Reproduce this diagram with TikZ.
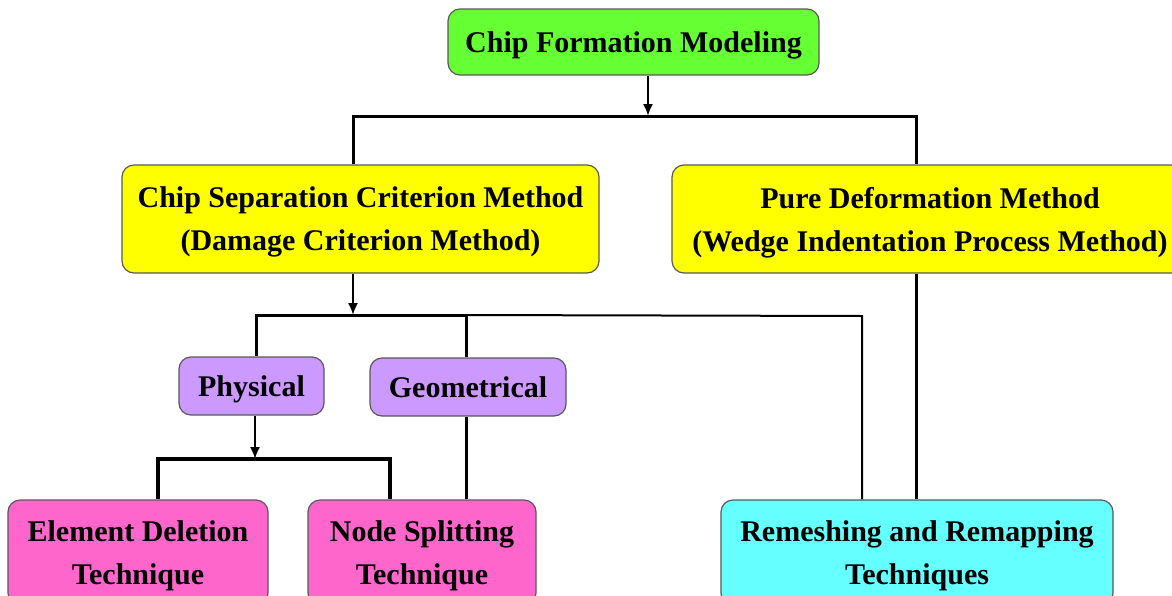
\documentclass[tikz,border=0pt]{standalone}
\usepackage{fontspec}
\setmainfont{Liberation Serif}
\usepackage{tikz}
\usetikzlibrary{positioning,arrows,arrows.meta,calc}

\definecolor{boxgreen}{HTML}{66FF33}
\definecolor{boxyellow}{HTML}{FFFF00}
\definecolor{boxpurple}{HTML}{CC99FF}
\definecolor{boxpink}{HTML}{FF66CC}
\definecolor{boxcyan}{HTML}{66FFFF}

\tikzset{
  blockbox/.style={draw=black!65, line width=0.6pt, rounded corners=6pt, align=center,
    font=\fontsize{15}{21.5}\selectfont\bfseries, inner sep=0pt, text depth=0pt},
  bus/.style={line width=1.5pt},
  thinbus/.style={line width=1pt},
  arr/.style={line width=1pt, -{Latex[length=6pt,width=5pt]}}
}

\begin{document}
\begin{tikzpicture}[x=0.5pt, y=-0.5pt]
        \useasboundingbox (0,0) rectangle (1172,595);
        % boxes
        \node[blockbox, fill=boxgreen, minimum width=185.5pt, minimum height=33pt] (cfm) at (633.5,42) {Chip Formation Modeling};
        \node[blockbox, fill=boxyellow, minimum width=238.5pt, minimum height=54pt] (csm) at (360.5,219) {Chip Separation Criterion Method\\(Damage Criterion Method)};
        \node[blockbox, fill=boxyellow, minimum width=258pt, minimum height=54pt] (pdm) at (930,219) {Pure Deformation Method\\(Wedge Indentation Process Method)};
        \node[blockbox, fill=boxpurple, minimum width=72.5pt, minimum height=29pt] (phys) at (251.5,386) {Physical};
        \node[blockbox, fill=boxpurple, minimum width=98pt, minimum height=29pt] (geo) at (468,387) {Geometrical};
        \node[blockbox, fill=boxpink, minimum width=130pt, minimum height=52.5pt] (edt) at (138,552.5) {Element Deletion\\Technique};
        \node[blockbox, fill=boxpink, minimum width=114pt, minimum height=52.5pt] (nst) at (422,552.5) {Node Splitting\\Technique};
        \node[blockbox, fill=boxcyan, minimum width=196pt, minimum height=52.5pt] (rrt) at (917,552.5) {Remeshing and Remapping\\Techniques};

        % junction points
        \coordinate (j1) at (648,116); \coordinate (l1) at (353,116); \coordinate (r1) at (916,116);
        \coordinate (j2) at (353,315); \coordinate (l2) at (256,315); \coordinate (m2) at (466,315); \coordinate (r2) at (862,316);
        \coordinate (j3) at (255,459); \coordinate (l3) at (158,459); \coordinate (r3) at (390,459);

        \draw[arr] (cfm.south -| j1) -- (j1);
        \draw[bus] (csm.north -| l1) -- (l1) -- (r1) -- (pdm.north -| r1);

        \draw[arr] (csm.south -| j2) -- (j2);
        \draw[bus] (phys.north -| l2) -- (l2) -- (m2) -- (geo.north -| m2);
        \draw[thinbus] (m2) -- (r2) -- (rrt.north -| r2);
        \draw[bus] (geo.south -| m2) -- (nst.north -| m2);
        \draw[bus] (pdm.south -| r1) -- (rrt.north -| r1);

        \draw[arr] (phys.south -| j3) -- (j3);
        \draw[line width=2pt] (edt.north -| l3) -- (l3) -- (r3) -- (nst.north -| r3);
\end{tikzpicture}
\end{document}
